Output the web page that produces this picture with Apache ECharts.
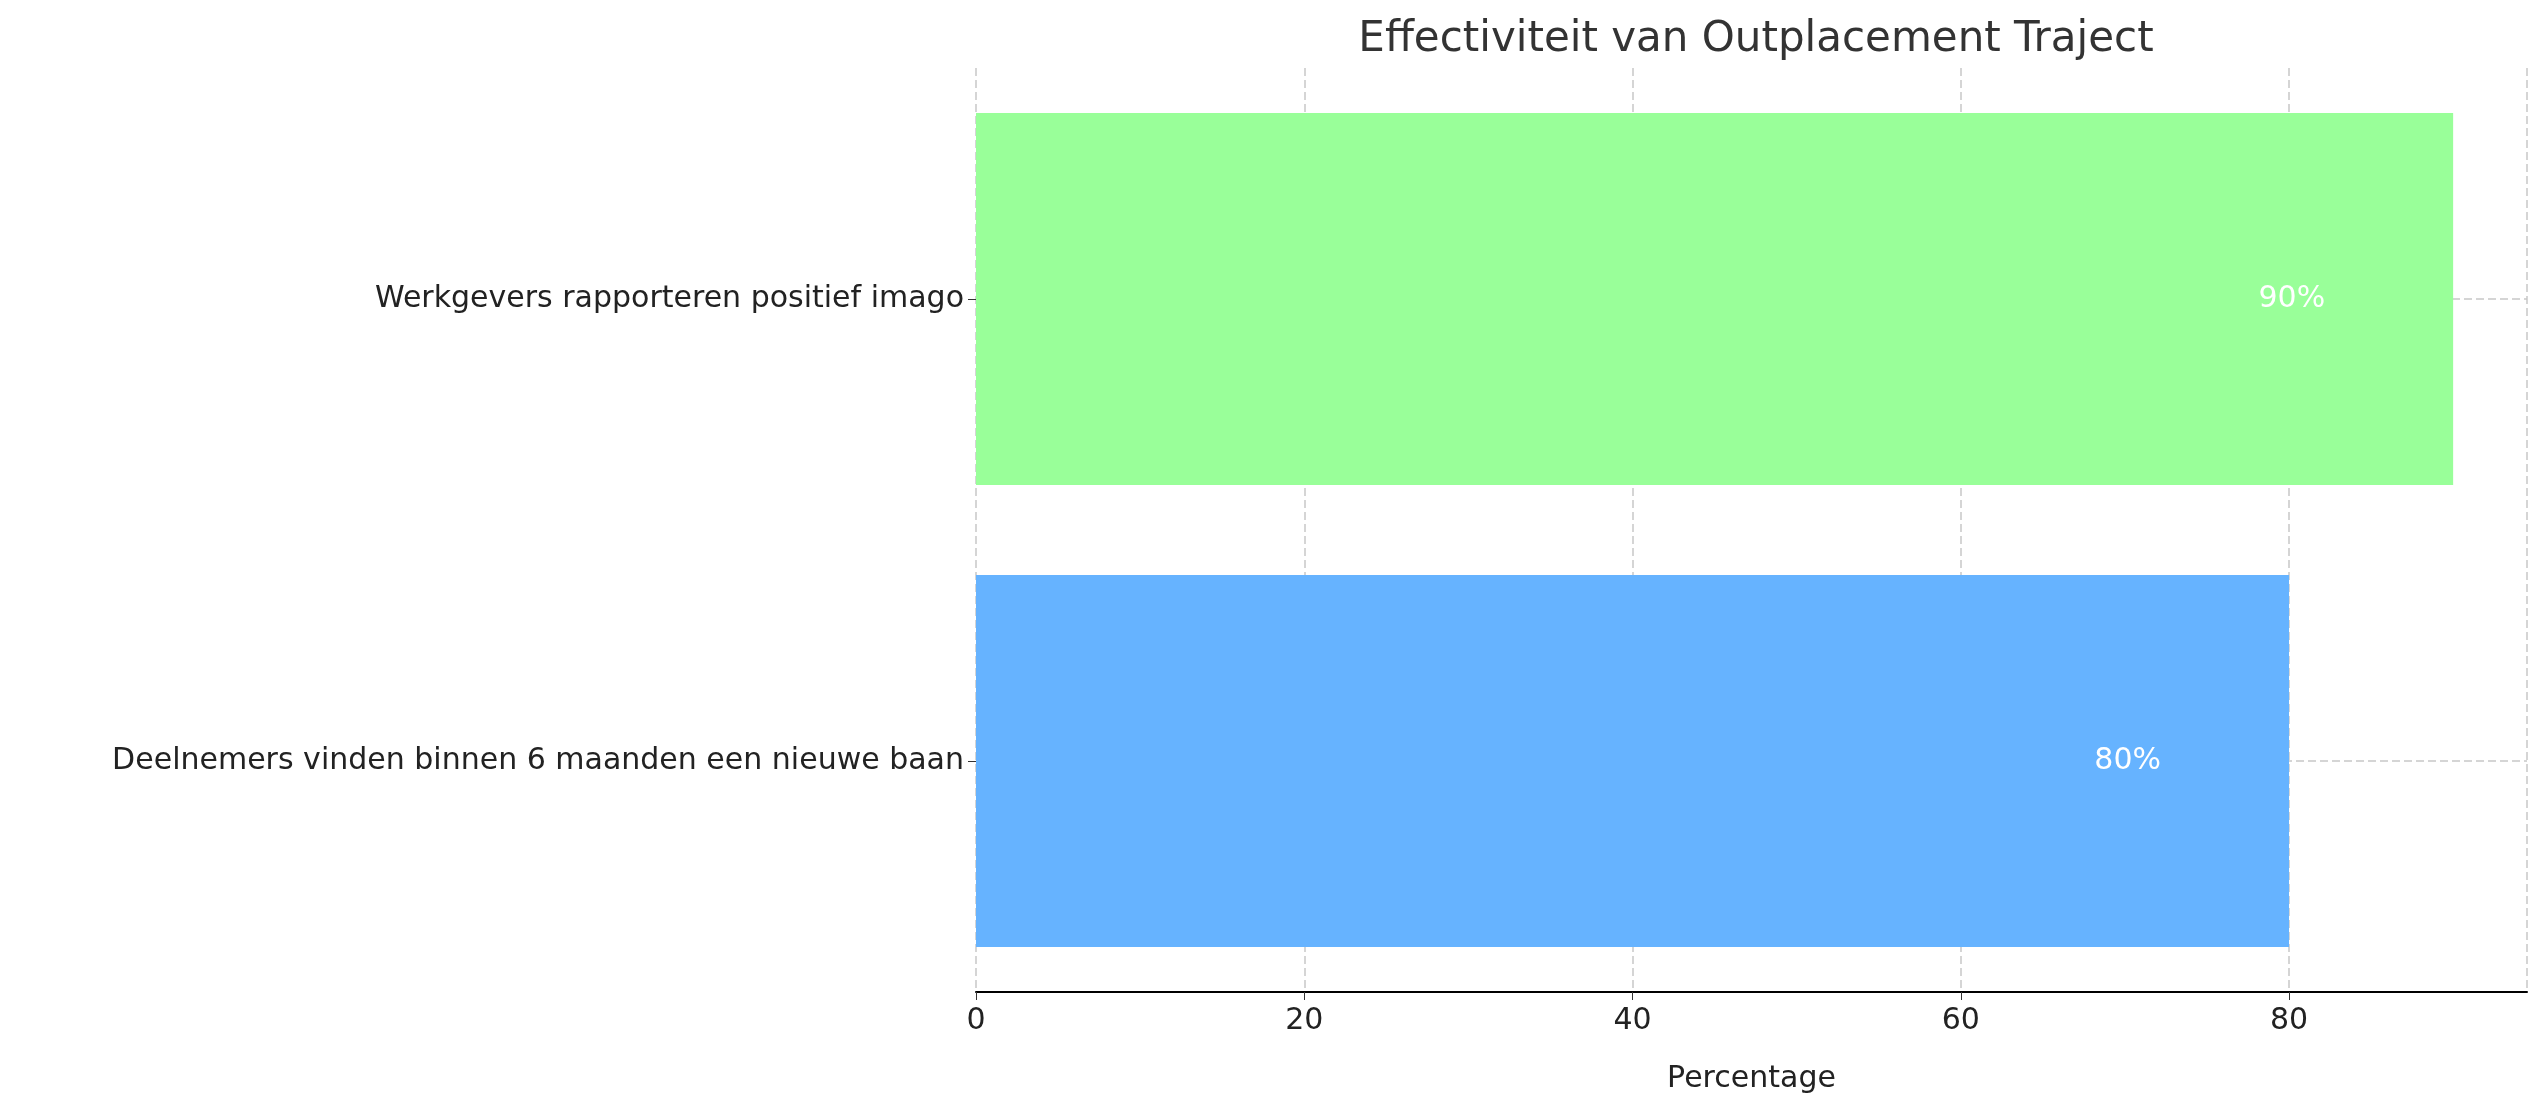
<!DOCTYPE html>
<html><head><meta charset="utf-8">
<script src="https://cdn.jsdelivr.net/npm/echarts@6/dist/echarts.min.js"></script>
<style>html,body{margin:0;padding:0;background:#fff}#c{width:2546px;height:1101px}</style>
</head><body><div id="c"></div>
<script>
const categories = ['Deelnemers vinden binnen 6 maanden een nieuwe baan', 'Werkgevers rapporteren positief imago'];
const values = [80, 90];
const colors = ['#66b3ff', '#99ff99'];
const xTicks = [0, 20, 40, 60, 80];
const font = 'DejaVu Sans';
const chart = echarts.init(document.getElementById('c'));
chart.setOption({
  animation: false,
  textStyle: {fontFamily: font},
  title: {text: 'Effectiviteit van Outplacement Traject', left: 1751, top: 14, textAlign: 'center',
    textStyle: {fontFamily: font, fontSize: 42, fontWeight: 'normal', color: '#333'}},
  grid: {left: 976, right: 19, top: 68, bottom: 109, containLabel: false},
  xAxis: {type: 'value', min: 0, max: 94.5, interval: 20,
    name: 'Percentage', nameLocation: 'middle', nameGap: 72,
    nameTextStyle: {fontSize: 30, color: '#222', fontFamily: font},
    axisLine: {show: true, lineStyle: {color: '#000', width: 2}},
    axisTick: {show: true, length: 8, lineStyle: {color: '#333'}},
    axisLabel: {fontSize: 30, color: '#222', margin: 14, showMaxLabel: false,
      formatter: v => xTicks.includes(v) ? String(v) : ''},
    splitLine: {show: true, lineStyle: {type: [8, 4], color: '#c8c8c8', width: 1.5}}},
  yAxis: {type: 'category', data: categories,
    axisLine: {show: false},
    axisTick: {show: true, alignWithLabel: true, length: 8, lineStyle: {color: '#333'}},
    axisLabel: {fontSize: 30, color: '#222', margin: 12},
    splitLine: {show: false}},
  series: [{
    type: 'bar', barWidth: 372,
    data: values.map((v, i) => ({value: v, itemStyle: {color: colors[i]}})),
    label: {show: true, position: 'insideRight', distance: 0, offset: [-128, 0],
      formatter: p => p.value + '%', color: '#fff', fontSize: 30, fontFamily: font},
    markLine: {silent: true, symbol: 'none', label: {show: false}, z: 0,
      lineStyle: {type: [8, 4], color: '#c8c8c8', width: 1.5},
      data: categories.map(c => ({yAxis: c}))}
  }]
});
</script></body></html>
